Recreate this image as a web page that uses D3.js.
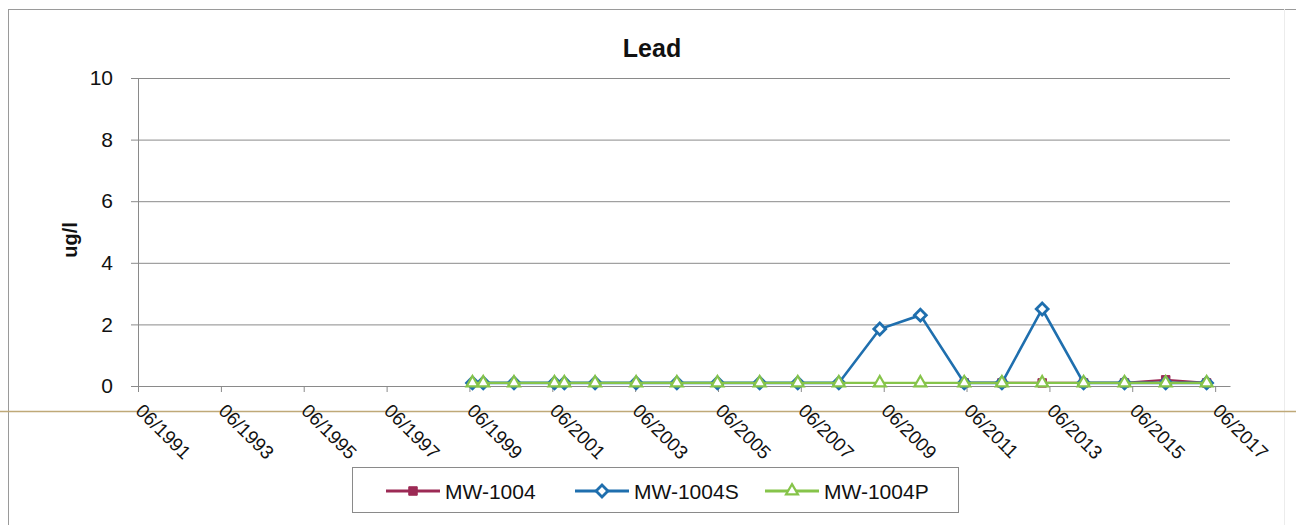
<!DOCTYPE html>
<html>
<head>
<meta charset="utf-8">
<script src="https://cdn.jsdelivr.net/npm/d3@7"></script>
<style>
  html, body { margin: 0; padding: 0; background: #fff; }
  svg { display: block; }
  text { font-family: "Liberation Sans", "DejaVu Sans", sans-serif; fill: #111; }
</style>
</head>
<body>
<svg id="chart" width="1296" height="525"></svg>
<script>
// ---- data ----
const chartTitle = "Lead";
const yTitle = "ug/l";
const tickLabels = ["06/1991","06/1993","06/1995","06/1997","06/1999","06/2001","06/2003",
                    "06/2005","06/2007","06/2009","06/2011","06/2013","06/2015","06/2017"];
const yTicks = [0, 2, 4, 6, 8, 10];
const sampleDates = ["1999-06-28","1999-10-01","2000-06-28","2001-06-20","2001-09-15","2002-06-13",
                     "2003-06-10","2004-06-03","2005-05-27","2006-06-03","2007-05-05","2008-05-01",
                     "2009-04-27","2010-04-20","2011-05-12","2012-04-08","2013-03-29","2014-03-29",
                     "2015-03-25","2016-03-22","2017-03-18"];
const seriesNames = ["MW-1004", "MW-1004S", "MW-1004P"];
// null = no sample
const mw1004  = [null,null,null,null,null,null,null,null,null,null,null,null,null,null,
                 0.1,0.1,0.1,0.1,0.1,0.2,0.1];
const mw1004S = [0.1,0.1,0.1,0.1,0.1,0.1,0.1,0.1,0.1,0.1,0.1,0.1,1.85,2.3,0.1,0.1,2.5,0.1,0.1,0.1,0.1];
const mw1004P = [0.1,0.1,0.1,0.1,0.1,0.1,0.1,0.1,0.1,0.1,0.1,0.1,0.1,0.1,0.1,0.1,0.1,0.1,0.1,0.1,0.1];
const colors = ["#9c2a55", "#1f6fae", "#86c44a"];

// ---- drawing ----
(function () {
const svg = d3.select("#chart");
const parseDay = d3.timeParse("%Y-%m-%d");
const parseTick = d3.timeParse("%m/%Y");
const dates = sampleDates.map(parseDay);
const tickDates = tickLabels.map(parseTick);

const pLeft = 138, pRight = 1230, pTop = 78, pBottom = 386;
const x = d3.scaleTime()
  .domain([parseTick("06/1991"), parseDay("2017-10-10")])
  .range([pLeft, pRight]);
const y = d3.scaleLinear().domain([0, 10]).range([pBottom, pTop]);

// outer frame & scan line
svg.append("line").attr("x1", 8).attr("x2", 1296).attr("y1", 9.5).attr("y2", 9.5)
  .attr("stroke", "#9a9a9a").attr("stroke-width", 1);
svg.append("line").attr("x1", 8.5).attr("x2", 8.5).attr("y1", 9).attr("y2", 525)
  .attr("stroke", "#9a9a9a").attr("stroke-width", 1);
svg.append("line").attr("x1", 1284.5).attr("x2", 1284.5).attr("y1", 9).attr("y2", 525)
  .attr("stroke", "#ececec").attr("stroke-width", 1);
svg.append("line").attr("x1", 0).attr("x2", 1296).attr("y1", 411.5).attr("y2", 411.5)
  .attr("stroke", "#bfa978").attr("stroke-width", 1.3);

// title
svg.append("text").attr("x", 652).attr("y", 57).attr("text-anchor", "middle")
  .attr("font-size", 25).attr("font-weight", "bold").text(chartTitle);

// y gridlines + axis
const yAxis = d3.axisLeft(y).tickValues(yTicks).tickSize(-(pRight - pLeft)).tickPadding(25)
  .tickSizeOuter(0);
const gy = svg.append("g").attr("transform", `translate(${pLeft},0)`).call(yAxis);
gy.select(".domain").remove();
gy.selectAll(".tick line").attr("stroke", "#8a8a8a").attr("stroke-width", 1).attr("x1", -7);
gy.selectAll(".tick text").attr("font-size", 21).attr("fill", "#111")
  .attr("font-family", "Liberation Sans, sans-serif");
svg.append("line").attr("x1", pLeft + 0.5).attr("x2", pLeft + 0.5).attr("y1", pTop).attr("y2", pBottom + 6)
  .attr("stroke", "#8a8a8a");

// x axis
const xAxis = d3.axisBottom(x).tickValues(tickDates).tickSize(6).tickSizeOuter(0)
  .tickFormat((d, i) => tickLabels[i]);
const gx = svg.append("g").attr("transform", `translate(0,${pBottom})`).call(xAxis);
gx.select(".domain").attr("stroke", "#8a8a8a");
gx.selectAll(".tick line").attr("stroke", "#8a8a8a");
gx.selectAll(".tick text")
  .attr("font-size", 19).attr("fill", "#111").attr("font-family", "Liberation Sans, sans-serif")
  .attr("text-anchor", "start").attr("dy", null).attr("y", 0)
  .attr("transform", "translate(-4,26) rotate(45)");

// y title
svg.append("text").attr("transform", "translate(77,240) rotate(-90)")
  .attr("text-anchor", "middle").attr("font-size", 20).attr("font-weight", "bold").text(yTitle);

// series
const allSeries = [mw1004, mw1004S, mw1004P];
const line = d3.line().x(d => x(d.date)).y(d => y(d.v));
const sq = d3.symbol().type(d3.symbolSquare).size(72);
const dia = d3.symbol().type(d3.symbolSquare).size(70);
const tri = d3.symbol().type(d3.symbolTriangle).size(62);
const shapes = [sq, dia, tri];
const rot = [0, 45, 0];
const lw = [2.2, 2.6, 2.2];
const mw = [1, 2.8, 2.2];

allSeries.forEach((vals, si) => {
  const pts = vals.map((v, i) => ({ date: dates[i], v }));
  const filtered = pts.filter(p => p.v != null);
  const g = svg.append("g");
  g.append("path").datum(filtered).attr("d", line)
    .attr("fill", "none").attr("stroke", colors[si]).attr("stroke-width", lw[si]);
  g.selectAll("path.m").data(filtered).enter().append("path").attr("class", "m")
    .attr("d", shapes[si])
    .attr("transform", d => `translate(${x(d.date)},${y(d.v)}) rotate(${rot[si]})`)
    .attr("fill", si === 0 ? colors[0] : "#fff")
    .attr("stroke", colors[si]).attr("stroke-width", mw[si]);
});

// legend
const lg = svg.append("g");
lg.append("rect").attr("x", 352.5).attr("y", 467.5).attr("width", 606).attr("height", 45)
  .attr("fill", "#fff").attr("stroke", "#8a8a8a");
const legendX = [386, 575, 765];
seriesNames.forEach((name, si) => {
  const lx = legendX[si], ly = 491;
  lg.append("line").attr("x1", lx).attr("x2", lx + 54).attr("y1", ly).attr("y2", ly)
    .attr("stroke", colors[si]).attr("stroke-width", lw[si] + 0.6);
  lg.append("path").attr("d", shapes[si]).attr("transform", `translate(${lx + 27},${ly}) rotate(${rot[si]})`)
    .attr("fill", si === 0 ? colors[0] : "#fff").attr("stroke", colors[si])
    .attr("stroke-width", mw[si]);
  lg.append("text").attr("x", lx + 59).attr("y", ly + 8).attr("font-size", 21).text(name);
});
})();
</script>
</body>
</html>
